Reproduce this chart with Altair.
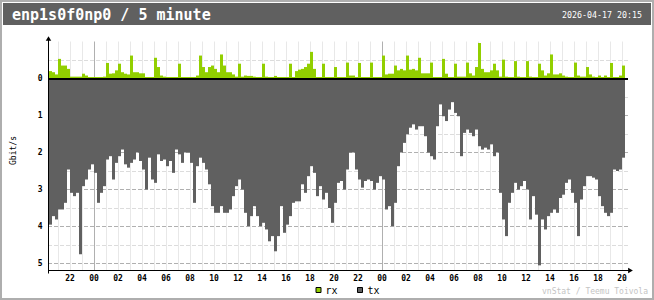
import altair as alt
import pandas as pd

# ---------------- data ----------------
TITLE = "enp1s0f0np0 / 5 minute"
DATE_TEXT = "2026-04-17 20:15"
FOOTER = "vnStat / Teemu Toivola"
Y_TITLE = "Gbit/s"
LEGEND_LABELS = ["rx", "tx"]
Y_TICKS = [0, 1, 2, 3, 4, 5]
GRID_MAJOR = [1, 2, 3, 4, 5]
GRID_MINOR = [-0.5, 0.5, 1.5, 2.5, 3.5, 4.5]

FIRST_BAR = "2026-04-15 20:15"   # 15-minute bars
tx = [3.95, 3.72, 3.81, 3.54, 3.54, 3.36, 2.46, 3.09, 3.18, 3.09,
      4.75, 2.91, 2.73, 2.46, 2.32, 2.55, 3.36, 3.09, 2.91, 2.19,
      2.10, 2.73, 2.28, 2.10, 1.92, 2.32, 2.41, 2.28, 2.19, 2.00,
      2.23, 2.46, 3.00, 2.14, 2.73, 2.82, 2.05, 2.23, 2.19, 2.37,
      2.23, 2.55, 1.92, 2.05, 2.28, 2.00, 2.00, 2.28, 3.36, 2.37,
      2.14, 2.28, 2.46, 2.86, 3.45, 3.63, 3.63, 3.45, 3.63, 3.63,
      3.54, 3.18, 2.91, 2.73,
      3.00, 3.63, 3.99, 3.72, 3.45, 3.72, 3.99, 3.90, 4.08, 4.40,
      4.26, 4.67, 4.26, 3.45, 4.17, 3.95, 3.72, 3.36, 3.32, 3.32,
      2.86, 3.09, 2.64, 2.37, 2.55, 3.18, 2.91, 3.27, 3.09, 3.50,
      3.90, 3.36, 2.82, 2.77, 3.00, 2.46, 2.00, 2.00, 2.46, 2.73,
      2.95, 2.77, 2.73, 2.77, 3.00, 2.82, 2.64, 2.73, 3.54, 3.45,
      3.99, 3.36, 2.37, 2.00, 1.74, 1.51, 1.33, 1.24, 1.38, 1.29,
      1.29, 1.56, 2.00,
      2.10, 2.19, 1.29, 0.70, 1.02, 1.15, 0.84, 0.64, 0.93, 1.02,
      2.10, 1.47, 1.38, 1.47, 1.56, 1.38, 1.83, 1.92, 1.87, 1.92,
      1.78, 2.10, 2.00, 3.09, 3.81, 4.26, 3.36, 3.09, 2.82, 3.00,
      2.91, 2.77, 3.00, 3.81, 3.18, 3.68, 5.05, 3.81, 4.08, 3.72,
      3.63, 3.54, 3.63, 3.23, 3.14, 2.82, 2.73, 3.09, 3.36, 4.26,
      3.27, 2.91, 2.64, 2.64, 2.68, 2.73, 3.18, 3.45, 3.63, 3.72,
      3.63, 2.46, 2.50, 2.46, 2.14]
rx = [0.20, 0.17, 0.11, 0.53, 0.35, 0.35, 0.26, 0.05, 0.05, 0.05,
      0.05, 0.13, 0.08, 0.04, 0.04, 0.04, 0.04, 0.04, 0.05, 0.42,
      0.13, 0.14, 0.22, 0.40, 0.17, 0.13, 0.11, 0.62, 0.17, 0.17,
      0.14, 0.14, 0.04, 0.04, 0.04, 0.56, 0.31, 0.08, 0.05, 0.04,
      0.04, 0.04, 0.04, 0.40, 0.04, 0.04, 0.04, 0.04, 0.04, 0.08,
      0.62, 0.31, 0.17, 0.31, 0.35, 0.26, 0.17, 0.65, 0.35, 0.17,
      0.17, 0.11, 0.05, 0.40, 0.05, 0.08, 0.07, 0.07, 0.05, 0.04,
      0.04, 0.40, 0.05, 0.04, 0.04, 0.07, 0.04, 0.04, 0.04, 0.04,
      0.40, 0.04, 0.20, 0.24, 0.26, 0.31, 0.40, 0.72, 0.26, 0.04,
      0.04, 0.40, 0.04, 0.04,
      0.04, 0.31, 0.04, 0.04, 0.04, 0.43,
      0.08, 0.08, 0.04, 0.42, 0.04, 0.04, 0.04, 0.43, 0.04, 0.04,
      0.04, 0.62, 0.11, 0.13, 0.13, 0.35, 0.22, 0.26, 0.22, 0.62,
      0.24, 0.26, 0.22, 0.56, 0.14, 0.14, 0.14, 0.43, 0.04, 0.04,
      0.04, 0.53, 0.13, 0.04, 0.04, 0.40, 0.05, 0.05, 0.05, 0.43,
      0.14, 0.08, 0.31, 0.96, 0.26, 0.17, 0.17, 0.22, 0.40, 0.22,
      0.05, 0.51, 0.05, 0.04, 0.04, 0.47, 0.05, 0.04, 0.04, 0.47,
      0.05, 0.04, 0.04, 0.40, 0.22, 0.08, 0.14, 0.65, 0.11, 0.11,
      0.14, 0.08, 0.05, 0.04, 0.04, 0.43, 0.08, 0.05, 0.05, 0.31,
      0.11, 0.05, 0.04, 0.08, 0.04, 0.08, 0.04, 0.42, 0.04, 0.04,
      0.08, 0.35]

# ---------------- styling ----------------
MONO = "DejaVu Sans Mono"
C_RX = "#92CF00"
C_TX = "#606060"
C_HEADER = "#606060"
C_EDGE = "#AEAEAE"
C_LINE = "#B0B0B0"
C_LINE_L = "#DCDCDC"
C_HOUR = "#E8E8E8"

W, H = 580, 234
PX_PER_UNIT = 37.0
VTOP = -42.5 / PX_PER_UNIT
VBOT = VTOP + H / PX_PER_UNIT

fmt = "%Y-%m-%dT%H:%M:%S"
starts = pd.date_range(FIRST_BAR, periods=len(tx), freq="15min")
ends = starts + pd.Timedelta(minutes=15)
df = pd.DataFrame({"start": starts.strftime(fmt), "end": ends.strftime(fmt),
                   "tx": tx, "rx": rx})

hours = pd.date_range("2026-04-15 21:00", "2026-04-17 20:00", freq="h")
hours_df = pd.DataFrame({"t": hours.strftime(fmt), "mid": hours.hour == 0})
label_hours = pd.date_range("2026-04-15 22:00", "2026-04-17 20:00", freq="2h")
xlab_df = pd.DataFrame({"t": label_hours.strftime(fmt)})
ylab_df = pd.DataFrame({"v": Y_TICKS})

xs = alt.Scale(domain=[alt.DateTime(year=2026, month=4, date=15, hours=20, minutes=10),
                       alt.DateTime(year=2026, month=4, date=17, hours=20, minutes=30)],
               nice=False)
ys = alt.Scale(domain=[VTOP, VBOT], reverse=True, nice=False, zero=False)

one = alt.Data(values=[{"k": 1}])

border = alt.Chart(one).mark_rect(fill="white", stroke=C_EDGE, strokeWidth=2).encode(
    x=alt.value(-47), x2=alt.value(605), y=alt.value(-35), y2=alt.value(263))
header = alt.Chart(one).mark_rect(fill=C_HEADER).encode(
    x=alt.value(-45), x2=alt.value(603), y=alt.value(-33), y2=alt.value(-11))
title = alt.Chart(one).mark_text(align="left", baseline="alphabetic", font=MONO, fontSize=15,
                                 fontWeight="bold", color="white").encode(
    x=alt.value(-36), y=alt.value(-16), text=alt.value(TITLE))
date = alt.Chart(one).mark_text(align="right", baseline="alphabetic", font=MONO, fontSize=8.3,
                                color="white").encode(
    x=alt.value(594), y=alt.value(-18.5), text=alt.value(DATE_TEXT))

hour_lines = alt.Chart(hours_df).transform_filter("!datum.mid").mark_rule(
    color=C_HOUR, strokeWidth=1, xOffset=0.5).encode(
    x=alt.X("t:T", scale=xs, axis=None), y=alt.value(5.5), y2=alt.value(H))
mid_lines = alt.Chart(hours_df).transform_filter("datum.mid").mark_rule(
    color=C_LINE, strokeWidth=1, xOffset=0.5).encode(
    x=alt.X("t:T", scale=xs, axis=None), y=alt.value(5.5), y2=alt.value(H))

minor = alt.Chart(pd.DataFrame({"v": GRID_MINOR})).mark_rule(
    color=C_LINE_L, strokeWidth=1, strokeDash=[4, 2], yOffset=0.5).encode(
    y=alt.Y("v:Q", scale=ys, axis=None))
major = alt.Chart(pd.DataFrame({"v": GRID_MAJOR})).mark_rule(
    color=C_LINE, strokeWidth=1, strokeDash=[4, 2]).encode(
    y=alt.Y("v:Q", scale=ys, axis=None))

rx_bars = alt.Chart(df).transform_calculate(rxn="-datum.rx").mark_rect(color=C_RX).encode(
    x=alt.X("start:T", scale=xs, axis=None), x2="end:T",
    y=alt.Y("rxn:Q", scale=ys, axis=None), y2=alt.datum(0))
tx_bars = alt.Chart(df).mark_rect(color=C_TX).encode(
    x=alt.X("start:T", scale=xs, axis=None), x2="end:T",
    y=alt.Y("tx:Q", scale=ys, axis=None), y2=alt.datum(0))

zero_line = alt.Chart(pd.DataFrame({"v": [0]})).mark_rule(
    color="black", strokeWidth=2, yOffset=0.5).encode(y=alt.Y("v:Q", scale=ys, axis=None))

# axis lines, arrows
y_axis_line = alt.Chart(one).mark_rule(color="black", strokeWidth=1).encode(
    x=alt.value(0.5), y=alt.value(2), y2=alt.value(237.5))
x_axis_line = alt.Chart(one).mark_rule(color="black", strokeWidth=1).encode(
    x=alt.value(0), x2=alt.value(582), y=alt.value(234.5))
y_arrow = alt.Chart(one).mark_point(shape="triangle-up", size=30, filled=True, opacity=1,
                                    color="black").encode(x=alt.value(0.5), y=alt.value(2.5))
x_arrow = alt.Chart(one).mark_point(shape="triangle-right", size=30, filled=True, opacity=1,
                                    color="black").encode(x=alt.value(582.5), y=alt.value(234.5))

# axis labels
x_labels = alt.Chart(xlab_df).mark_text(align="center", baseline="alphabetic", font=MONO,
                                        fontSize=8, fontWeight="bold", color="black").encode(
    x=alt.X("t:T", scale=xs, axis=None), y=alt.value(244.5),
    text=alt.Text("t:T", format="%H"))
y_labels = alt.Chart(ylab_df).mark_text(align="right", baseline="middle", font=MONO,
                                        fontSize=8, fontWeight="bold", color="black").encode(
    x=alt.value(-5.5), y=alt.Y("v:Q", scale=ys, axis=None), text="v:Q")
y_title = alt.Chart(one).mark_text(align="center", baseline="middle", font=MONO, fontSize=8,
                                   angle=270, color="black").encode(
    x=alt.value(-34), y=alt.value(114.5), text=alt.value(Y_TITLE))

# legend + footer
leg_rx = alt.Chart(one).mark_rect(fill=C_RX, stroke="black", strokeWidth=1).encode(
    x=alt.value(268), x2=alt.value(273), y=alt.value(251.5), y2=alt.value(256.5))
leg_tx = alt.Chart(one).mark_rect(fill=C_TX, stroke="black", strokeWidth=1).encode(
    x=alt.value(309.5), x2=alt.value(314.5), y=alt.value(251.5), y2=alt.value(256.5))
leg_rx_t = alt.Chart(one).mark_text(align="left", baseline="alphabetic", font=MONO,
                                    fontSize=10, color="black").encode(
    x=alt.value(277.5), y=alt.value(257.5), text=alt.value(LEGEND_LABELS[0]))
leg_tx_t = alt.Chart(one).mark_text(align="left", baseline="alphabetic", font=MONO,
                                    fontSize=10, color="black").encode(
    x=alt.value(319.5), y=alt.value(257.5), text=alt.value(LEGEND_LABELS[1]))
footer = alt.Chart(one).mark_text(align="right", baseline="alphabetic", font=MONO,
                                  fontSize=8, color="#C4C4C4").encode(
    x=alt.value(600), y=alt.value(258), text=alt.value(FOOTER))

chart = alt.layer(
    border, header, title, date,
    hour_lines, mid_lines, minor, major,
    rx_bars, tx_bars, zero_line,
    y_axis_line, x_axis_line, y_arrow, x_arrow,
    x_labels, y_labels, y_title,
    leg_rx, leg_tx, leg_rx_t, leg_tx_t, footer,
).properties(
    width=W, height=H,
    autosize=alt.AutoSizeParams(type="none"),
    padding={"left": 48, "top": 36, "right": 26, "bottom": 30},
    background="white",
).configure_view(stroke="transparent")

chart.save("out.html", embed_options={"renderer": "svg", "actions": False})
